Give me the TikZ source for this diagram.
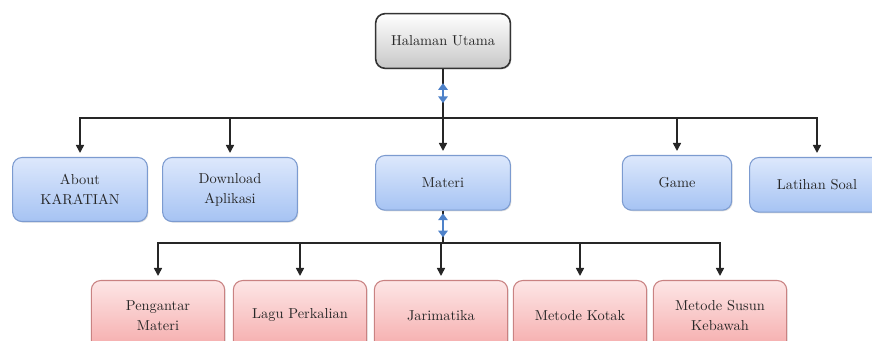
\documentclass[tikz,border=0pt]{standalone}
\usepackage{tikz}
\usetikzlibrary{arrows.meta,positioning,shadows}

\definecolor{menutop}{HTML}{DDE8FC}
\definecolor{menubot}{HTML}{A6C3F3}
\definecolor{menuline}{HTML}{7C9BD0}
\definecolor{subtop}{HTML}{FDE6E6}
\definecolor{subbot}{HTML}{F5ABAB}
\definecolor{subline}{HTML}{C98282}
\definecolor{markblue}{HTML}{4F82C9}

\begin{document}
\begin{tikzpicture}[x=0.75pt, y=-0.75pt,
    box/.style={draw, rounded corners=7pt, minimum width=101pt, minimum height=41pt, align=center, font=\fontsize{10.8}{15}\selectfont, text=black!85, line width=0.8pt, drop shadow={opacity=0.25, shadow xshift=0.8pt, shadow yshift=-0.8pt}},
    mainbox/.style={box, draw=black!80, line width=1.2pt, top color=white, bottom color=black!22},
    menubox/.style={box, draw=menuline, top color=menutop, bottom color=menubot, anchor=north},
    subbox/.style={box, draw=subline, top color=subtop, bottom color=subbot, anchor=north, minimum width=100pt, minimum height=52pt},
    link/.style={line width=1.2pt, black!85},
    arrow/.style={link, -{Triangle[length=6pt,width=6pt]}, shorten >=3pt},
    marker/.style={line width=2pt, markblue, {Triangle[length=5pt,width=7pt]}-{Triangle[length=5pt,width=7pt]}}
]
    \useasboundingbox (0,0) rectangle (872,341);
    \clip (0,0) rectangle (872,341);

    % Main page
    \node[mainbox] (utama) at (443,41) {Halaman Utama};

    % Menu row
    \node[menubox, minimum height=48pt] (about) at (80,157) {About\\KARATIAN};
    \node[menubox, minimum height=48pt] (download) at (230,157) {Download\\Aplikasi};
    \node[menubox] (materi) at (443,155) {Materi};
    \node[menubox, minimum width=82pt] (game) at (677,155) {Game};
    \node[menubox] (latihan) at (817,157) {Latihan Soal};

    % Materi row
    \node[subbox] (pengantar) at (158,280) {Pengantar\\Materi};
    \node[subbox] (lagu) at (300,280) {Lagu Perkalian};
    \node[subbox] (jarimatika) at (441,280) {Jarimatika};
    \node[subbox] (kotak) at (580,280) {Metode Kotak};
    \node[subbox] (susun) at (720,280) {Metode Susun\\Kebawah};

    % Connectors
    \coordinate (bus1) at (443,118);
    \coordinate (bus2) at (443,243);

    \draw[link] (utama) -- (bus1);
    \draw[marker] ([yshift=-10.5pt]utama.south) -- ([yshift=-25.5pt]utama.south);
    \foreach \n in {about,download,materi,game,latihan}
        \draw[arrow] (bus1) -| (\n);

    \draw[link] (materi) -- (bus2);
    \draw[marker] ([yshift=-2pt]materi.south) -- ([yshift=-20pt]materi.south);
    \foreach \n in {pengantar,lagu,jarimatika,kotak,susun}
        \draw[arrow] (bus2) -| (\n);
\end{tikzpicture}
\end{document}
